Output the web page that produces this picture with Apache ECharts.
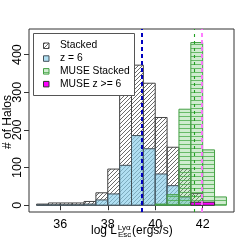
<!DOCTYPE html>
<html><head><meta charset="utf-8">
<script src="https://cdn.jsdelivr.net/npm/echarts@6/dist/echarts.min.js"></script>
<style>html,body{margin:0;padding:0;background:#fff}#c{width:249px;height:249px}</style>
</head><body><div id="c"></div>
<script>
// ---- data ----
const binEdges = [35,35.5,36,36.5,37,37.5,38,38.5,39,39.5,40,40.5,41,41.5,42,42.5,43];
const stackedCounts = [3,6,6,6,10,33,96,318,372,324,233,154,97,31,0,0];
const z6Counts      = [1,1,1,1,3,14,30,106,185,150,83,52,22,5,0,0];
const museStackedCounts = [0,0,0,0,0,0,0,0,0,0,3,28,255,432,147,22];
const museZ6Counts      = [0,0,0,0,0,0,0,0,0,0,0,0,0,8,8,0];
const xTicks = [36,38,40,42];
const yTicks = [0,100,200,300,400];
const meanStacked = 39.44, meanMuse = 41.64, meanMuseZ6 = 41.96;
const legendNames = ['Stacked','z = 6','MUSE Stacked','MUSE z >= 6'];

// ---- patterns ----
function makeTile(w,h,draw){const c=document.createElement('canvas');c.width=w;c.height=h;draw(c.getContext('2d'));return {type:'pattern',image:c,repeat:'repeat'};}
const hatch = makeTile(4,4,ctx=>{ctx.strokeStyle='#5a5a5a';ctx.lineWidth=0.9;ctx.beginPath();
  ctx.moveTo(0,4);ctx.lineTo(4,0);ctx.moveTo(-1,1);ctx.lineTo(1,-1);ctx.moveTo(3,5);ctx.lineTo(5,3);ctx.stroke();});
const greenLines = makeTile(4,4,ctx=>{ctx.fillStyle='rgba(110,195,110,0.32)';ctx.fillRect(0,0,4,4);
  ctx.fillStyle='rgba(60,165,60,0.7)';ctx.fillRect(0,0,4,1);});

function toData(vals){return vals.map((v,i)=>[binEdges[i],binEdges[i+1],v]).filter(d=>d[2]>0);}
function histSeries(name,vals,style,z){
  return {type:'custom',name,z,clip:true,data:toData(vals),
    encode:{x:[0,1],y:2},
    renderItem:(params,api)=>{
      const p0=api.coord([api.value(0),0]);const p1=api.coord([api.value(1),api.value(2)]);
      return {type:'rect',shape:{x:p0[0],y:p1[1],width:p1[0]-p0[0],height:p0[1]-p1[1]},style:Object.assign({},style)};
    }};
}
const styles = [
  {fill:hatch,stroke:'#444',lineWidth:1},
  {fill:'rgba(135,206,235,0.66)',stroke:'#45525a',lineWidth:1},
  {fill:greenLines,stroke:'#45a045',lineWidth:1},
  {fill:'#ff00ff',stroke:'#303030',lineWidth:1}
];

const series = [
  histSeries(legendNames[0],stackedCounts,styles[0],1),
  histSeries(legendNames[1],z6Counts,styles[1],2),
  histSeries(legendNames[2],museStackedCounts,styles[2],3),
  histSeries(legendNames[3],museZ6Counts,styles[3],4)
];
series[3].markLine={silent:true,symbol:['none','none'],label:{show:false},z:10,
  data:[
    {xAxis:meanStacked,lineStyle:{color:'#0000c0',width:2,type:[4,3]}},
    {xAxis:meanMuse,lineStyle:{color:'#22a022',width:1.1,type:[3,4]}},
    {xAxis:meanMuseZ6,lineStyle:{color:'#ff70ff',width:1.8,type:[4,3]}}
  ]};

// ---- legend (graphic) ----
const legendGraphics=[{type:'rect',shape:{x:33.5,y:33.5,width:101,height:62},style:{fill:'#fff',stroke:'#555',lineWidth:1},z:50}];
legendNames.forEach((n,i)=>{
  const cy=45.5+i*12.8;
  legendGraphics.push({type:'rect',shape:{x:43.5,y:cy-2.5,width:5.5,height:5.5},style:Object.assign({},styles[i]),z:51});
  legendGraphics.push({type:'text',x:60,y:cy,style:{text:n,font:'10.3px "Liberation Sans", Arial, sans-serif',fill:'#000',verticalAlign:'middle',align:'left'},z:51});
});
const F='"Liberation Sans", Arial, sans-serif';
const titleGraphics=[
  {type:'text',x:8,y:122,rotation:Math.PI/2,style:{text:'# of Halos',font:'12px '+F,fill:'#000',align:'center',verticalAlign:'middle'}},
  {type:'text',x:91,y:230.5,style:{text:'log L',font:'12px '+F,fill:'#000',align:'left',verticalAlign:'middle'}},
  {type:'text',x:117.8,y:227.3,style:{text:'Lyα',font:'8px '+F,fill:'#000',align:'left',verticalAlign:'middle'}},
  {type:'text',x:118,y:234.5,style:{text:'Esc',font:'8px '+F,fill:'#000',align:'left',verticalAlign:'middle'}},
  {type:'text',x:132,y:230.5,style:{text:'(ergs/s)',font:'12px '+F,fill:'#000',align:'left',verticalAlign:'middle'}}
];

const chart=echarts.init(document.getElementById('c'),null,{renderer:'canvas'});
chart.setOption({
  animation:false,
  backgroundColor:'#fff',
  grid:{left:29,top:29,right:15,bottom:37,show:true,borderColor:'#333',borderWidth:1,backgroundColor:'transparent'},
  xAxis:{type:'value',min:34.68,max:43.32,
    axisLine:{show:false},splitLine:{show:false},
    axisTick:{show:true,length:5,customValues:xTicks,lineStyle:{color:'#333'}},
    axisLabel:{show:true,customValues:xTicks,fontSize:12.5,fontFamily:'Liberation Sans',color:'#000',margin:6}},
  yAxis:{type:'value',min:-18,max:468,
    axisLine:{show:false},splitLine:{show:false},
    axisTick:{show:true,length:5,customValues:yTicks,lineStyle:{color:'#333'}},
    axisLabel:{show:true,customValues:yTicks,fontSize:12.5,fontFamily:'Liberation Sans',color:'#000',rotate:90,margin:5}},
  series,
  graphic:legendGraphics.concat(titleGraphics)
});
</script></body></html>
